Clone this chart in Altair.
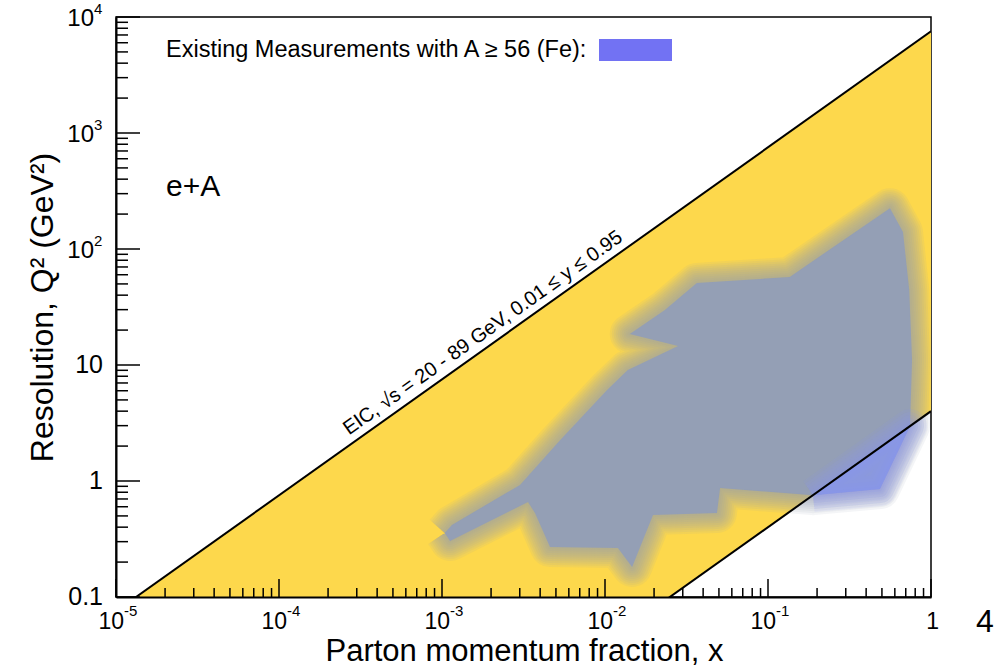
import altair as alt
import pandas as pd

# ---------------- data ----------------
# kinematic limits of the EIC e+A band (Q^2 vs x), endpoints of the two straight lines
x_edge = [1e-5, 1.0]
q2_upper = [0.0753, 7525.0]   # sqrt(s)=89 GeV, y=0.95
q2_lower = [4e-5, 4.0]        # sqrt(s)=20 GeV, y=0.01

# existing measurements region, polygon vertices (the part below the band is cut by the mask)
meas_x = [1.04e-3, 1.15e-3, 3.01e-3, 5.3e-3, 1.03e-2, 1.38e-2, 2.81e-2, 1.42e-2, 2.33e-2,
          3.66e-2, 0.136, 0.56, 0.673, 0.735, 0.765, 0.743, 0.486, 0.189, 0.0508, 0.0486,
          0.0197, 0.01466, 0.0120, 4.6e-3, 3.72e-3, 3.37e-3, 1.12e-3, 1.04e-3]
meas_q2 = [0.356, 0.418, 0.925, 2.25, 6.09, 9.05, 14.6, 18.5, 29.8,
           50.9, 57.4, 225.0, 140.0, 44.4, 11.0, 2.97, 0.853, 0.755, 0.87, 0.53,
           0.509, 0.1815, 0.264, 0.27, 0.53, 0.659, 0.304, 0.356]

# part of the measurements lying outside (below) the EIC band
out_x = [0.189, 0.486, 0.743, 0.189]
out_q2 = [0.755, 0.853, 2.97, 0.755]

x_major = [1e-5, 1e-4, 1e-3, 1e-2, 1e-1, 1.0]
x_lab_base = ["10", "10", "10", "10", "10", "1"]
x_lab_exp = ["-5", "-4", "-3", "-2", "-1", ""]
y_major = [0.1, 1.0, 10.0, 100.0, 1000.0, 10000.0]
y_lab_base = ["0.1", "1", "10", "10", "10", "10"]
y_lab_exp = ["", "", "", "2", "3", "4"]
x_minor = [k * d for d in [1e-5, 1e-4, 1e-3, 1e-2, 1e-1] for k in range(2, 10)]
y_minor = [k * d for d in [0.1, 1.0, 10.0, 100.0, 1000.0] for k in range(2, 10)]

legend_text = "Existing Measurements with A ≥ 56 (Fe):"
band_text = "EIC, √s = 20 - 89 GeV, 0.01 ≤ y ≤ 0.95"
band_text_x = [2.0e-3]
band_text_q2 = [15.05]

# ---------------- styling ----------------
W, H = 815, 580
FONT = "Liberation Sans, Arial, Helvetica"
YELLOW = "#FDD84C"
GRAY = "#949FB5"
BLUE_OUT = "#8595F8"
BLUE_KEY = "#7272F3"

xscale = alt.Scale(type="log", domain=[1e-5, 1], nice=False)
yscale = alt.Scale(type="log", domain=[0.1, 1e4], nice=False)

xaxis = alt.Axis(values=x_major, labels=False, ticks=False, grid=False,
                 domainColor="black", domainWidth=2, title="Parton momentum fraction, x",
                 titleFont=FONT, titleFontSize=31, titleFontWeight="normal", titleColor="black",
                 titleX=408, titleY=54, titleBaseline="middle", titleAlign="center", zindex=1)
yaxis = alt.Axis(values=y_major, labels=False, ticks=False, grid=False,
                 domainColor="black", domainWidth=2, title="Resolution, Q²  (GeV²)",
                 titleFont=FONT, titleFontSize=32, titleFontWeight="normal", titleColor="black",
                 titleX=-74, titleY=290, titleAngle=270, titleBaseline="middle", titleAlign="center",
                 zindex=1)


def X(f):
    return alt.X(f, type="quantitative", scale=xscale, axis=xaxis)


def Y(f):
    return alt.Y(f, type="quantitative", scale=yscale, axis=yaxis)


band_df = pd.DataFrame({"x": x_edge, "lo": q2_lower, "hi": q2_upper})
meas_df = pd.DataFrame({"x": meas_x, "q2": meas_q2, "i": list(range(len(meas_x)))})
out_df = pd.DataFrame({"x": out_x, "q2": out_q2, "i": list(range(len(out_x)))})

band = alt.Chart(band_df).mark_area(color=YELLOW, clip=True).encode(
    x=X("x"), y=Y("lo"), y2="hi")


def poly(df, color, w, op, fill=False, fill_op=1.0):
    kw = dict(stroke=color, strokeWidth=w, strokeOpacity=op, strokeJoin="round", clip=True)
    if fill:
        kw["fill"] = color
        kw["fillOpacity"] = fill_op
    return alt.Chart(df).mark_line(**kw).encode(x=X("x"), y=Y("q2"), order="i:Q")


# soft edge: a wide outward ramp of translucent strokes around the filled core
gray_layers = [poly(meas_df, GRAY, w, 0.1) for w in [40, 36, 32, 28, 24, 20, 16, 12, 8, 4]]
gray_layers.append(poly(meas_df, GRAY, 1, 0.1, fill=True))

mask = alt.Chart(band_df).mark_area(color="white", clip=True).encode(
    x=X("x"), y=Y("lo"), y2=alt.value(H))

blue_layers = [poly(out_df, BLUE_OUT, w, 0.1) for w in [34, 28, 22, 16, 10, 5]]
blue_layers.append(poly(out_df, BLUE_OUT, 1, 0.1, fill=True, fill_op=0.55))

upper_line = alt.Chart(band_df).mark_line(color="black", strokeWidth=2, clip=True).encode(
    x=X("x"), y=Y("hi"))
lower_line = alt.Chart(band_df).mark_line(color="black", strokeWidth=2, clip=True).encode(
    x=X("x"), y=Y("lo"))

xt_maj = alt.Chart(pd.DataFrame({"v": x_major})).mark_rule(color="black", strokeWidth=1.5).encode(
    x=X("v"), y=alt.value(H), y2=alt.value(H - 18))
xt_min = alt.Chart(pd.DataFrame({"v": x_minor})).mark_rule(color="black", strokeWidth=1.5).encode(
    x=X("v"), y=alt.value(H), y2=alt.value(H - 9))
yt_maj = alt.Chart(pd.DataFrame({"v": y_major})).mark_rule(color="black", strokeWidth=1.5).encode(
    y=Y("v"), x=alt.value(0), x2=alt.value(24))
yt_min = alt.Chart(pd.DataFrame({"v": y_minor})).mark_rule(color="black", strokeWidth=1.5).encode(
    y=Y("v"), x=alt.value(0), x2=alt.value(12))

# tick labels with real superscripts
xl_df = pd.DataFrame({"v": x_major, "b": x_lab_base, "e": x_lab_exp})
yl_df = pd.DataFrame({"v": y_major, "b": y_lab_base, "e": y_lab_exp})
yl_pow = yl_df[yl_df["e"] != ""]
yl_plain = yl_df[yl_df["e"] == ""]

x_base = alt.Chart(xl_df).mark_text(align="right", baseline="middle", dx=8, font=FONT,
                                    fontSize=23, color="black").encode(
    x=X("v"), y=alt.value(H + 25), text="b:N")
x_exp = alt.Chart(xl_df).mark_text(align="left", baseline="middle", dx=8, font=FONT,
                                   fontSize=15, color="black").encode(
    x=X("v"), y=alt.value(H + 14), text="e:N")
y_base_pow = alt.Chart(yl_pow).mark_text(align="right", baseline="middle", dx=-22, dy=2, font=FONT,
                                         fontSize=24, color="black").encode(
    y=Y("v"), x=alt.value(0), text="b:N")
y_exp = alt.Chart(yl_pow).mark_text(align="left", baseline="middle", dx=-22, dy=-8, font=FONT,
                                    fontSize=15, color="black").encode(
    y=Y("v"), x=alt.value(0), text="e:N")
y_plain = alt.Chart(yl_plain).mark_text(align="right", baseline="middle", dx=-13, font=FONT,
                                        fontSize=25, color="black").encode(
    y=Y("v"), x=alt.value(0), text="b:N")

band_label = alt.Chart(pd.DataFrame({"x": band_text_x, "q2": band_text_q2, "t": [band_text]})).mark_text(
    angle=324.6, align="center", baseline="bottom", dy=-4, font=FONT, fontSize=20, color="black"
).encode(x=X("x"), y=Y("q2"), text="t:N")

legend_label = alt.Chart(pd.DataFrame({"t": [legend_text]})).mark_text(
    align="left", baseline="middle", font=FONT, fontSize=23.5, color="black"
).encode(x=alt.value(50), y=alt.value(33), text="t:N")
legend_key = alt.Chart(pd.DataFrame({"t": [legend_text]})).mark_rect(color=BLUE_KEY).encode(
    x=alt.value(483), x2=alt.value(556), y=alt.value(22), y2=alt.value(44))

system_label = alt.Chart(pd.DataFrame({"t": ["e+A"]})).mark_text(
    align="left", baseline="middle", font=FONT, fontSize=30, color="black"
).encode(x=alt.value(50), y=alt.value(170), text="t:N")

page_label = alt.Chart(pd.DataFrame({"t": ["4"]})).mark_text(
    align="center", baseline="middle", font=FONT, fontSize=32, color="black"
).encode(x=alt.value(869), y=alt.value(605), text="t:N")

chart = alt.layer(
    band, *gray_layers, mask, *blue_layers, upper_line, lower_line,
    xt_maj, xt_min, yt_maj, yt_min, x_base, x_exp, y_base_pow, y_exp, y_plain,
    band_label, legend_label, legend_key, system_label, page_label
).properties(
    width=W, height=H,
    autosize=alt.AutoSizeParams(type="none"),
    padding={"left": 116, "top": 17, "right": 76, "bottom": 71},
    background="white",
).configure_view(stroke="black", strokeWidth=1.5)

chart.save("out.html", embed_options={"renderer": "svg", "actions": False})
